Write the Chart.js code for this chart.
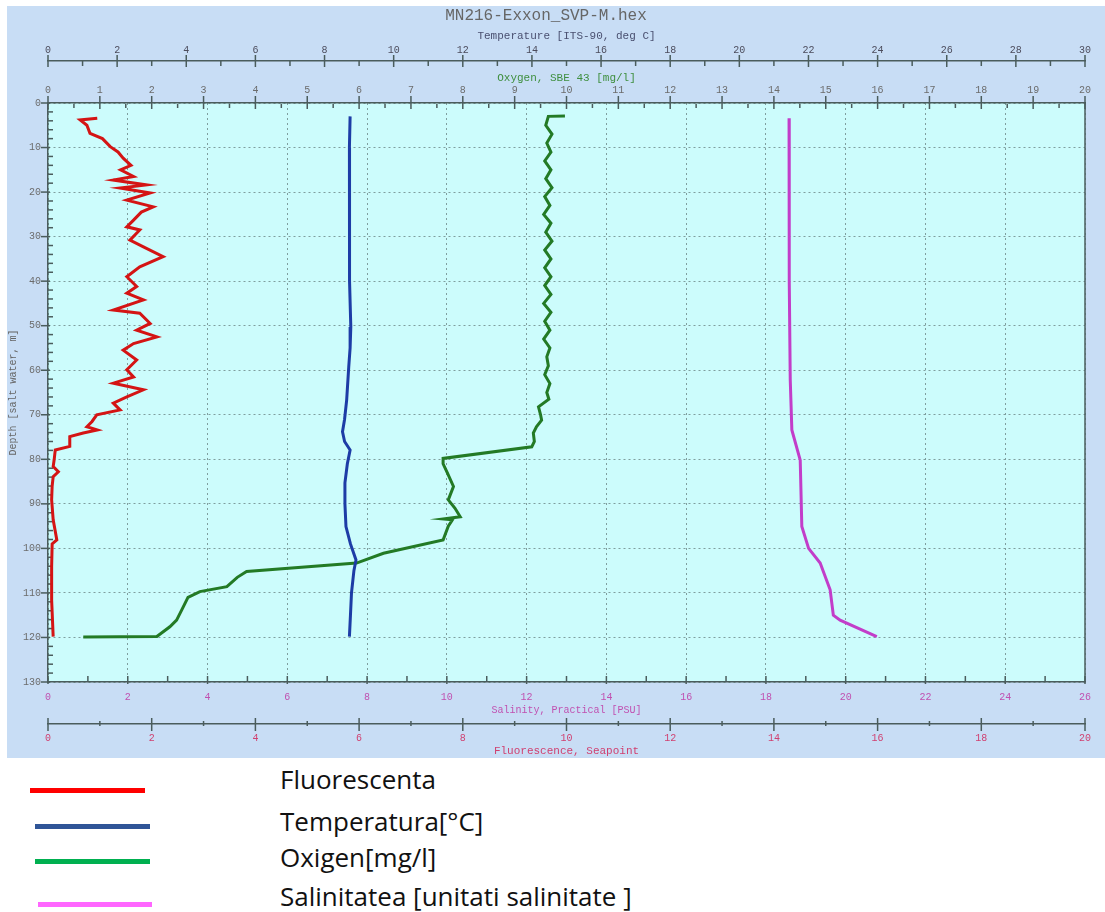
<!DOCTYPE html>
<html>
<head>
<meta charset="utf-8">
<script src="https://cdn.jsdelivr.net/npm/chart.js@4.4.0/dist/chart.umd.min.js"></script>
<style>
  body { margin: 0; background: #fff; width: 1105px; height: 912px; position: relative; overflow: hidden; }
  #frame { position: absolute; left: 7px; top: 6px; width: 1098px; height: 752px; background: #c8ddf5; }
  .key { position: absolute; height: 5px; }
  .txt { position: absolute; left: 280px; font-family: "Open Sans", sans-serif; font-size: 26px; color: #111; line-height: 1; white-space: nowrap; }
</style>
</head>
<body>
<div id="frame"><canvas id="ctd"></canvas></div>

<div class="key" style="left:30px;top:788px;width:115px;background:#ff0000"></div>
<div class="key" style="left:35px;top:824px;width:115px;background:#2f5597"></div>
<div class="key" style="left:35px;top:859px;width:115px;background:#00b050"></div>
<div class="key" style="left:38px;top:902px;width:114px;background:#ff66ff"></div>
<div class="txt" style="top:766px">Fluorescenta</div>
<div class="txt" style="top:808px">Temperatura[°C]</div>
<div class="txt" style="top:844px">Oxigen[mg/l]</div>
<div class="txt" style="top:883px">Salinitatea [unitati salinitate ]</div>

<script>
// Profile data (depth in m)
const fluoDepth = [3.4, 3.8, 5.0, 6.8, 8.0, 9.8, 11.0, 12.4, 14.0, 15.0, 16.5, 17.3, 18.4, 19.1, 20.2, 21.8, 23.3, 24.5,
  26.3, 27.8, 28.5, 30.8, 32.3, 34.5, 36.8, 39.0, 41.2, 42.7, 44.2, 46.5, 47.2, 49.5, 51.0, 52.5, 54.0, 55.5, 57.7,
  59.9, 61.5, 62.9, 64.4, 66.0, 67.4, 68.9, 70.0, 71.5, 72.7, 73.4, 74.1, 74.9, 77.1, 77.9, 80.0, 81.6, 82.8, 83.9,
  86.0, 89.1, 93.6, 98.1, 99.0, 104.0, 111.6, 119.8];
const fluoValue = [0.95, 0.62, 0.75, 0.81, 1.05, 1.2, 1.35, 1.45, 1.6, 1.4, 1.65, 1.26, 1.9, 1.39, 1.97, 1.52, 2.03, 1.8,
  1.65, 1.52, 1.77, 1.58, 1.84, 2.22, 1.77, 1.52, 1.71, 1.52, 1.84, 1.26, 1.77, 1.97, 1.71, 2.10, 1.65, 1.45, 1.71,
  1.52, 1.65, 1.26, 1.84, 1.52, 1.26, 1.39, 0.94, 0.85, 0.75, 0.95, 0.68, 0.42, 0.42, 0.14, 0.12, 0.10, 0.20, 0.10,
  0.08, 0.07, 0.10, 0.17, 0.08, 0.07, 0.07, 0.10];

const tempDepth = [3, 10, 20, 30, 40, 50.3, 55, 59.3, 66.7, 71, 73.8, 76, 77.9, 81, 85.3, 90, 95.1, 99, 102.6, 105, 110, 115, 119.8];
const tempValue = [8.74, 8.72, 8.72, 8.72, 8.73, 8.76, 8.74, 8.70, 8.64, 8.58, 8.52, 8.58, 8.74, 8.66, 8.59, 8.59, 8.62,
  8.75, 8.91, 8.85, 8.78, 8.75, 8.72];

const oxyDepth = [2.9, 3.0, 5, 7, 9, 11, 13, 15, 17, 19, 21, 23, 25, 27, 29, 31, 33, 35, 37, 39, 41, 43, 45, 47, 49, 51,
  53, 55, 57, 59, 61, 63, 65, 66.5, 68.2, 70, 71.2, 72.7, 74.1, 76, 77.2, 79.8, 81, 83, 86.1, 89.1, 91, 92.9, 93.4,
  93.6, 95, 98.1, 101.1, 103.3, 105.2, 106.5, 108.6, 109.7, 111, 113.8, 116.1, 117.6, 119.8, 119.9];
const oxyValue = [9.97, 9.65, 9.60, 9.72, 9.62, 9.70, 9.58, 9.70, 9.60, 9.72, 9.58, 9.68, 9.56, 9.70, 9.60, 9.72, 9.58,
  9.70, 9.58, 9.70, 9.58, 9.70, 9.56, 9.70, 9.58, 9.68, 9.56, 9.68, 9.62, 9.65, 9.58, 9.68, 9.62, 9.66, 9.46, 9.50,
  9.52, 9.42, 9.36, 9.38, 9.33, 7.62, 7.62, 7.70, 7.82, 7.72, 7.85, 7.95, 7.62, 7.80, 7.72, 7.62, 6.47, 5.95, 3.83,
  3.65, 3.45, 2.93, 2.70, 2.58, 2.48, 2.35, 2.10, 0.68];

const salDepth = [3.4, 20, 40, 62.2, 73.4, 80.2, 95.1, 100, 103.3, 109.3, 115, 116.1, 119.8];
const salValue = [18.58, 18.58, 18.59, 18.61, 18.65, 18.86, 18.90, 19.07, 19.36, 19.61, 19.69, 19.86, 20.78];

const toPoints = (depths, values) => depths.map((d, i) => ({ x: values[i], y: d }));

const mono = 'Liberation Mono';
const axisColor = '#4a5c5c';
const gridColor = '#7f9e9e';

// major / minor tick marks drawn on each axis line
const tickSpecs = [
  { id: 'temp', major: 2, minor: 1, maj: [-6, 6], min: [0, 5] },
  { id: 'oxy', major: 1, minor: 0.5, maj: [-7, 6], min: [1, 5] },
  { id: 'sal', major: 2, minor: 1, maj: [-6, 2], min: [-6, 0] },
  { id: 'fluo', major: 2, minor: 1, maj: [-6, 7], min: [-3, 2] },
  { id: 'y', major: 10, minor: 2, maj: [-7, 2], min: [0, 5] }
];

const plotDecor = {
  id: 'plotDecor',
  beforeDraw(chart) {
    const { ctx, chartArea: a } = chart;
    ctx.save();
    ctx.fillStyle = '#ccfcfc';
    ctx.fillRect(a.left, a.top, a.right - a.left, a.bottom - a.top);
    ctx.restore();
  },
  beforeDatasetsDraw(chart) {
    const { ctx, chartArea: a } = chart;
    ctx.save();
    ctx.strokeStyle = axisColor;
    ctx.lineWidth = 1.5;
    tickSpecs.forEach(sp => {
      const s = chart.scales[sp.id];
      let base;
      if (s.position === 'top') base = s.bottom;
      else if (s.position === 'bottom') base = s.top;
      else base = s.right;
      const n = Math.round((s.max - s.min) / sp.minor);
      for (let i = 0; i <= n; i++) {
        const v = s.min + i * sp.minor;
        const r = v / sp.major;
        const isMajor = Math.abs(r - Math.round(r)) < 1e-6;
        const off = isMajor ? sp.maj : sp.min;
        const p = s.getPixelForValue(v);
        ctx.beginPath();
        if (s.isHorizontal()) { ctx.moveTo(p, base + off[0]); ctx.lineTo(p, base + off[1]); }
        else { ctx.moveTo(base + off[0], p); ctx.lineTo(base + off[1], p); }
        ctx.stroke();
      }
    });
    ctx.beginPath();
    ctx.moveTo(a.right, a.top);
    ctx.lineTo(a.right, a.bottom);
    ctx.stroke();
    ctx.restore();
  }
};

const xAxis = (opts) => ({
  type: 'linear',
  axis: 'x',
  position: opts.position,
  weight: opts.weight,
  min: opts.min,
  max: opts.max,
  afterFit: s => { s.height = opts.height; },
  ticks: { stepSize: opts.step, autoSkip: false, maxRotation: 0, padding: opts.pad, color: opts.color,
    font: { family: mono, size: 10 } },
  grid: opts.grid || { display: false, drawTicks: false },
  border: { display: true, color: axisColor, width: 1.5, z: 1, dash: [2, 3] },
  title: { display: true, text: opts.title, color: opts.titleColor,
    font: { family: mono, size: opts.titleSize }, padding: opts.titlePad }
});

new Chart(document.getElementById('ctd'), {
  type: 'scatter',
  data: {
    datasets: [
      { label: 'Fluorescence', data: toPoints(fluoDepth, fluoValue), xAxisID: 'fluo', yAxisID: 'y',
        borderColor: '#d41414', borderWidth: 3 },
      { label: 'Temperature', data: toPoints(tempDepth, tempValue), xAxisID: 'temp', yAxisID: 'y',
        borderColor: '#1d3ca6', borderWidth: 3 },
      { label: 'Oxygen', data: toPoints(oxyDepth, oxyValue), xAxisID: 'oxy', yAxisID: 'y',
        borderColor: '#237a25', borderWidth: 3 },
      { label: 'Salinity', data: toPoints(salDepth, salValue), xAxisID: 'sal', yAxisID: 'y',
        borderColor: '#c23dc9', borderWidth: 3 }
    ].map(d => Object.assign(d, { showLine: true, pointRadius: 0, pointHoverRadius: 0, tension: 0 }))
  },
  options: {
    responsive: true,
    maintainAspectRatio: false,
    animation: false,
    layout: { padding: { left: 0, right: 20, top: 0, bottom: 0 } },
    plugins: {
      legend: { display: false },
      tooltip: { enabled: false },
      title: { display: true, text: 'MN216-Exxon_SVP-M.hex', color: '#666',
        font: { family: mono, size: 16, weight: 'normal', lineHeight: 1.25 }, padding: { top: 0, bottom: 0 } }
    },
    scales: {
      temp: xAxis({ position: 'top', weight: 2, min: 0, max: 30, step: 2, height: 35, pad: 5, color: '#4c4c5c',
        title: 'Temperature [ITS-90, deg C]', titleColor: '#4a5070', titleSize: 11, titlePad: { top: 3.4, bottom: 0 } }),
      oxy: xAxis({ position: 'top', weight: 1, min: 0, max: 20, step: 1, height: 42, pad: 7, color: '#6c6c6c',
        title: 'Oxygen, SBE 43 [mg/l]', titleColor: '#3f8f3f', titleSize: 11, titlePad: { top: 10.4, bottom: 0 } }),
      sal: xAxis({ position: 'bottom', weight: 1, min: 0, max: 26, step: 2, height: 42, pad: 9, color: '#c050b0',
        title: 'Salinity, Practical [PSU]', titleColor: '#c050b0', titleSize: 10, titlePad: { top: 0, bottom: 8 },
        grid: { display: true, drawOnChartArea: true, drawTicks: false, color: gridColor, lineWidth: 1 } }),
      fluo: xAxis({ position: 'bottom', weight: 2, min: 0, max: 20, step: 2, height: 34, pad: 8, color: '#d04070',
        title: 'Fluorescence, Seapoint', titleColor: '#d04070', titleSize: 11, titlePad: { top: 0, bottom: 0 } }),
      y: {
        type: 'linear',
        position: 'left',
        reverse: true,
        min: 0,
        max: 130,
        afterFit: s => { s.width = 41; },
        ticks: { stepSize: 10, autoSkip: false, padding: 7, color: '#6c6c6c', font: { family: mono, size: 10 } },
        grid: { display: true, drawOnChartArea: true, drawTicks: false, color: gridColor, lineWidth: 1 },
        border: { display: true, color: axisColor, width: 1.5, z: 1, dash: [2, 3] },
        title: { display: true, text: 'Depth [salt water, m]', color: '#666',
          font: { family: mono, size: 10 }, padding: { top: 0, bottom: 0 } }
      }
    }
  },
  plugins: [plotDecor]
});
</script>
</body>
</html>
